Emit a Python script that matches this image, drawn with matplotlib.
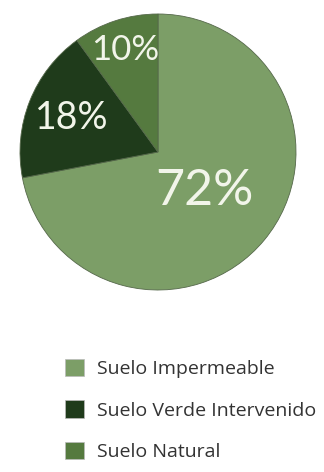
import matplotlib.pyplot as plt
import matplotlib.patches as mpatches
import numpy as np

labels = ['Suelo Impermeable', 'Suelo Verde Intervenido', 'Suelo Natural']
values = [72, 18, 10]
colors = ['#7c9e67', '#1f3b1b', '#557a3f']
pct_dist = [0.44, 0.67, 0.78]
pct_size = [36, 27, 25]

fig = plt.figure(figsize=(3.24, 4.72), dpi=100)
ax = fig.add_axes([20 / 324, 1 - 290 / 472, 276 / 324, 276 / 472])

wedges, _ = ax.pie(values, colors=colors, startangle=90, counterclock=False,
                   radius=1, wedgeprops=dict(edgecolor='#55684a', linewidth=0.6))
ax.set_xlim(-1, 1)
ax.set_ylim(-1, 1)
ax.set_aspect('equal')
ax.axis('off')

for w, v, d, s in zip(wedges, values, pct_dist, pct_size):
    ang = np.deg2rad((w.theta1 + w.theta2) / 2)
    ax.text(d * np.cos(ang), d * np.sin(ang), f'{v}%', ha='center', va='center',
            color='#f2f5ea', fontsize=s, fontfamily='Lato', fontweight='normal')

handles = [mpatches.Patch(facecolor=c, edgecolor='#bbbbbb', linewidth=0.5) for c in colors]
fig.legend(handles, labels, loc='upper left', bbox_to_anchor=(47 / 324, 1 - 341 / 472),
           frameon=False, labelspacing=1.15, handlelength=1.0,
           handleheight=1.0, handletextpad=0.65, labelcolor='#333333',
           prop={'family': 'Open Sans', 'size': 14})

fig.savefig('out.png', dpi=100)
